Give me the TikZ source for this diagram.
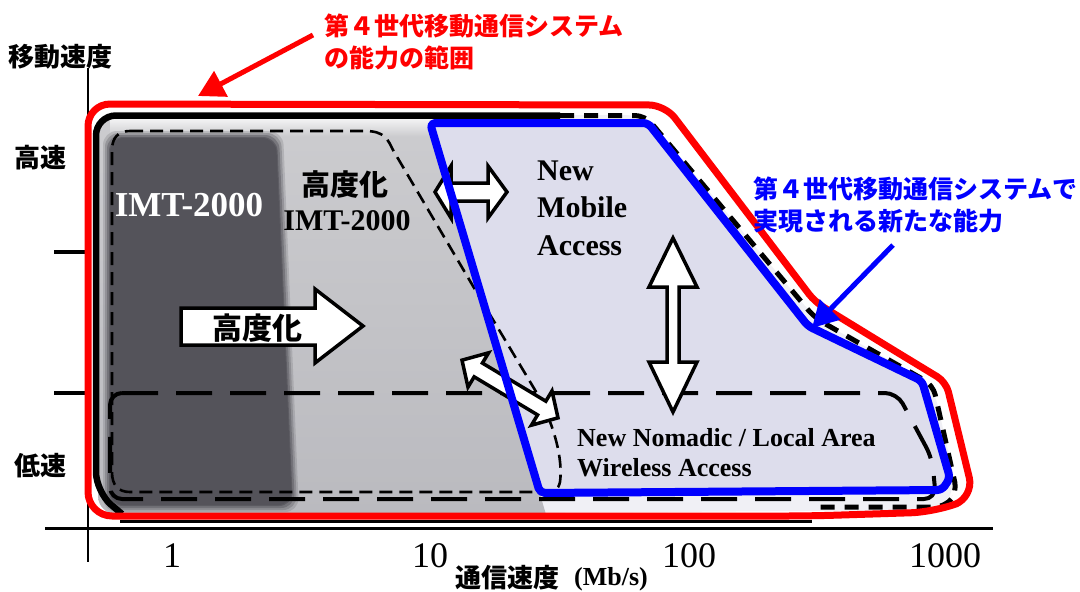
\documentclass[tikz,border=0pt]{standalone}
\usepackage{fontspec}
\setmainfont{Liberation Serif}
\newfontfamily\jp{Noto Sans CJK JP}
\usetikzlibrary{arrows.meta,calc}
\definecolor{darkcol}{RGB}{84,83,90}
\definecolor{graytop}{RGB}{204,204,207}
\definecolor{graybot}{RGB}{186,186,191}
\definecolor{lav}{RGB}{221,221,236}
\definecolor{pale}{RGB}{240,240,245}
\begin{document}
\begin{tikzpicture}[x=1pt,y=-1pt,
 cjk/.style={font=\jp\bfseries\fontsize{25}{31.5}\selectfont, inner sep=0pt},
 cjkbig/.style={font=\jp\bfseries\fontsize{#1}{#1}\selectfont, inner sep=0pt},
 serifb/.style={font=\bfseries\fontsize{#1}{#1}\selectfont, inner sep=0pt},
 axnum/.style={font=\fontsize{36}{36}\selectfont, inner sep=0pt},
 redline/.style={draw=red, line width=7pt, line join=round},
 blueline/.style={draw=blue, line width=8pt, line join=round},
 blkthick/.style={draw=black, line width=6.5pt},
 blkdash/.style={draw=black, line width=5pt, dash pattern=on 14pt off 10pt},
 imtdash/.style={draw=black, line width=2.6pt, dash pattern=on 13pt off 7pt},
 nomdash/.style={draw=black, line width=4pt, dash pattern=on 36pt off 18pt},
 blockarrow/.style={draw=black, fill=white, line width=3.5pt, line join=miter},
 pointer/.style={line width=5pt, -{Triangle[length=26pt,width=28pt]}},
 axisline/.style={draw=black, line width=3pt},
]
\useasboundingbox (0,0) rectangle (1080,592);
\fill[white] (0,0) rectangle (1080,592);

% interior fills
\fill[pale, rounded corners=20] (96,115) -- (645,115) -- (815,318) -- (933,385) -- (957,490) -- (940,510) -- (120,516) -- (96,490) -- cycle;
\begin{scope}
  \clip (0,0) -- (393.4,0) -- (569,592) -- (0,592) -- cycle;
  \shade[top color=graytop, bottom color=graybot, rounded corners=18] (98,118) rectangle (600,514);
  \shade[top color=white!80!graytop, bottom color=graytop] (110,118) rectangle (600,136);
\end{scope}
\fill[lav] (430,123) -- (648,123) -- (808,326) -- (922,381) -- (950,478) -- (942,490) -- (540,493) -- cycle;
\foreach \d/\o in {7/0.2,5/0.3,3/0.45,1/0.7,0/1}
  \fill[darkcol, opacity=\o, rounded corners=14] (110-\d,138-\d) -- (276+\d,138-\d) -- (292+\d,505+\d) -- (110-\d,505+\d) -- cycle;

% axes
\draw[axisline, line width=2.6pt] (88,68) -- (88,562);
\draw[axisline] (45,528) -- (993,528);
\draw[axisline, line width=4pt] (54,252) -- (88,252);
\draw[axisline, line width=4pt] (54,393) -- (88,393);

% dashed regions
\draw[nomdash, rounded corners=12] (110,393) -- (897,393) -- (932,458) -- (936,499) -- (110,499) -- cycle;
\draw[imtdash] (130,131) -- (365,131) .. controls (385,131) and (388,140) .. (393,150) -- (480,298) -- (535,390) .. controls (555,425) and (563,460) .. (560,482) .. controls (558,490) and (555,492) .. (545,492) -- (130,492) .. controls (118,492) and (112,485) .. (112,472) -- (112,150) .. controls (112,138) and (118,131) .. (130,131) -- cycle;

% black outline
\draw[blkthick, rounded corners=20] (560,115.5) -- (96,115.5) -- (96,492) -- (122,514);
\draw[black, line width=2.5pt] (120,521.5) -- (812,521.5);
\draw[blkdash, rounded corners=10] (560,115.5) -- (645,115.5) -- (815,318) -- (933,385) -- (957,492) -- (945,507) -- (812,507);

% red outline
\draw[redline, rounded corners=24] (88,300) -- (88,516) -- (810,516) -- (935,512)
  [rounded corners=20] -- (974,497) [rounded corners=10] -- (946,382) -- (895,351) -- (815,302)
  [rounded corners=16] -- (665,105) [rounded corners=22] -- (88,104) -- cycle;

% block arrows
\draw[blockarrow] (181,308) -- (315,308) -- (315,289) -- (363,326) -- (315,363) -- (315,345) -- (181,345) -- cycle;
\draw[blockarrow] (435,192) -- (451,166) -- (451,183) -- (488,183) -- (488,166) -- (507,192) -- (488,218) -- (488,201) -- (451,201) -- (451,218) -- cycle;
\draw[blockarrow] (673,238) -- (697,287) -- (679,287) -- (679,362) -- (697,362) -- (673,412) -- (649,362) -- (667,362) -- (667,287) -- (649,287) -- cycle;
\begin{scope}[shift={(510,389)}, rotate=-31]
\draw[blockarrow] (-56,0) -- (-37,-20) -- (-37,-8) -- (37,-8) -- (37,-20) -- (56,0) -- (37,20) -- (37,8) -- (-37,8) -- (-37,20) -- cycle;
\end{scope}

% blue outline
\draw[blueline, rounded corners=5] (430,123) -- (648,123) -- (808,326) -- (922,381) -- (950,478) -- (942,490) -- (540,493) -- cycle;

% texts
\node[cjkbig=26] (ylab) at (61,57) {移動速度};
\node[cjkbig=26] (hi) at (41,158) {高速};
\node[cjkbig=26] (lo) at (41,466) {低速};
\node[axnum] (t1) at (172,556) {1};
\node[axnum] (t10) at (430,556) {10};
\node[axnum] (t100) at (689,556) {100};
\node[axnum] (t1000) at (945,556) {1000};
\node[cjkbig=26] (xlab) at (507,578) {通信速度};
\node[serifb=26] (unit) at (611,579) {(Mb/s)};
\node[serifb=35, text=white] (imt) at (189,205) {IMT-2000};
\node[cjkbig=29] (adv) at (345,185) {高度化};
\node[serifb=30] (advimt) at (347,221) {IMT-2000};
\node[cjkbig=30] (advarrow) at (257,328) {高度化};
\node[font=\bfseries\fontsize{30}{37.5}\selectfont, inner sep=0pt, align=left, anchor=west] (nma) at (537,208) {New\\Mobile\\Access};
\node[font=\bfseries\fontsize{26}{30}\selectfont, inner sep=0pt, align=left, anchor=west] (nom) at (577,453) {New Nomadic / Local Area\\Wireless Access};
\node[cjk, text=red, align=left, anchor=west] (rt) at (324,42) {第４世代移動通信システム\\の能力の範囲};
\node[cjk, text=blue, align=left, anchor=west] (bt) at (753,205) {第４世代移動通信システムで\\実現される新たな能力};

% pointers
\coordinate (rtip) at (198,96);
\coordinate (btip) at (812,328);
\draw[pointer, red] ($(rt.west)+(-11,-7)$) -- (rtip);
\draw[pointer, blue] ($(bt.south west)+(140,12)$) -- (btip);
\end{tikzpicture}
\end{document}
